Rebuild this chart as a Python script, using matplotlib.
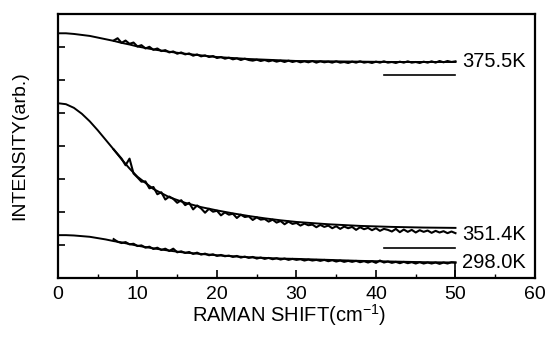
import numpy as np
import matplotlib
matplotlib.use("Agg")
import matplotlib.pyplot as plt
from matplotlib.ticker import MultipleLocator

plt.rcParams['font.family'] = ['Liberation Sans', 'DejaVu Sans']
plt.rcParams['mathtext.fontset'] = 'custom'
plt.rcParams['mathtext.rm'] = 'Liberation Sans'
plt.rcParams['mathtext.it'] = 'Liberation Sans'
plt.rcParams['mathtext.default'] = 'regular'

# smooth fitted curves
fit_x = [0, 1, 2, 3, 4, 5, 6, 7, 8, 9, 10, 12, 14, 16, 18, 20, 22, 24, 26, 28, 30, 34, 38, 42, 46, 50]
fit_375 = [7.42, 7.42, 7.40, 7.37, 7.34, 7.29, 7.24, 7.19, 7.13, 7.08, 7.02, 6.93, 6.86, 6.80, 6.75, 6.70,
           6.67, 6.64, 6.62, 6.60, 6.58, 6.57, 6.56, 6.55, 6.55, 6.55]
fit_351 = [5.30, 5.27, 5.16, 4.98, 4.75, 4.48, 4.19, 3.90, 3.60, 3.32, 3.07, 2.70, 2.45, 2.28, 2.15, 2.05,
           1.96, 1.88, 1.81, 1.75, 1.70, 1.63, 1.58, 1.55, 1.53, 1.52]
fit_298 = [1.30, 1.30, 1.29, 1.27, 1.25, 1.21, 1.17, 1.12, 1.08, 1.03, 0.98, 0.90, 0.83, 0.77, 0.73, 0.69,
           0.66, 0.63, 0.61, 0.59, 0.58, 0.55, 0.52, 0.50, 0.48, 0.47]

# measured spectra, 7 .. 50 cm-1 every 0.5
data_x = np.arange(7, 50.25, 0.5)
data_375 = [7.20, 7.27, 7.13, 7.20, 7.10, 7.14, 7.02, 7.06, 6.96, 7.01, 6.92, 6.96, 6.88, 6.91, 6.84, 6.87,
            6.80, 6.84, 6.78, 6.81, 6.74, 6.78, 6.72, 6.75, 6.70, 6.73, 6.67, 6.70, 6.65, 6.68, 6.63, 6.66,
            6.61, 6.65, 6.61, 6.59, 6.62, 6.58, 6.61, 6.57, 6.60, 6.56, 6.59, 6.55, 6.59, 6.55, 6.58, 6.54,
            6.57, 6.54, 6.58, 6.53, 6.57, 6.54, 6.56, 6.53, 6.57, 6.53, 6.55, 6.52, 6.56, 6.53, 6.57, 6.53,
            6.55, 6.52, 6.56, 6.53, 6.57, 6.53, 6.55, 6.52, 6.56, 6.53, 6.57, 6.53, 6.55, 6.52, 6.56, 6.53,
            6.57, 6.53, 6.58, 6.54, 6.58, 6.55, 6.57]
data_351 = [3.90, 3.76, 3.62, 3.42, 3.62, 3.17, 3.05, 2.92, 2.93, 2.72, 2.76, 2.54, 2.60, 2.38, 2.47, 2.40,
            2.28, 2.36, 2.21, 2.28, 2.08, 2.20, 2.11, 1.98, 2.10, 2.01, 2.04, 1.90, 1.99, 1.92, 1.95, 1.82,
            1.92, 1.85, 1.87, 1.76, 1.84, 1.77, 1.79, 1.71, 1.77, 1.68, 1.73, 1.63, 1.71, 1.64, 1.67, 1.59,
            1.65, 1.60, 1.62, 1.54, 1.61, 1.55, 1.59, 1.51, 1.57, 1.49, 1.56, 1.51, 1.55, 1.46, 1.54, 1.48,
            1.52, 1.45, 1.51, 1.43, 1.49, 1.46, 1.41, 1.49, 1.39, 1.47, 1.40, 1.46, 1.38, 1.45, 1.40, 1.44,
            1.37, 1.43, 1.38, 1.42, 1.36, 1.41, 1.36]
data_298 = [1.18, 1.10, 1.06, 1.09, 1.02, 1.04, 0.97, 0.99, 0.92, 0.95, 0.88, 0.92, 0.85, 0.89, 0.82, 0.89,
            0.78, 0.81, 0.76, 0.79, 0.73, 0.77, 0.71, 0.74, 0.69, 0.72, 0.67, 0.70, 0.66, 0.68, 0.64, 0.67,
            0.62, 0.65, 0.61, 0.64, 0.59, 0.62, 0.58, 0.61, 0.57, 0.60, 0.56, 0.59, 0.55, 0.58, 0.55, 0.57,
            0.53, 0.56, 0.53, 0.55, 0.52, 0.55, 0.51, 0.54, 0.50, 0.53, 0.49, 0.52, 0.49, 0.52, 0.48, 0.51,
            0.47, 0.51, 0.46, 0.53, 0.47, 0.50, 0.46, 0.49, 0.45, 0.49, 0.45, 0.48, 0.44, 0.48, 0.44, 0.47,
            0.44, 0.47, 0.43, 0.47, 0.44, 0.48, 0.47]

# zero levels drawn at right of each spectrum
base_x = [41, 50]
base_375 = 6.15
base_351 = 0.91
labels = ['375.5K', '351.4K', '298.0K']
label_y = [6.55, 1.33, 0.48]

fig = plt.figure(figsize=(5.47, 3.37), dpi=100)
ax = fig.add_axes([0.106, 0.175, 0.872, 0.783])

for fy in [fit_375, fit_351, fit_298]:
    ax.plot(fit_x, fy, color='black', lw=1.4)
for dy in [data_375, data_351, data_298]:
    ax.plot(data_x, dy, color='black', lw=1.5)
ax.plot([50, 50], [data_298[-1], 0], color='black', lw=1.2)
ax.plot(base_x, [base_375, base_375], color='black', lw=1.2)
ax.plot(base_x, [base_351, base_351], color='black', lw=1.2)

for lab, ly in zip(labels, label_y):
    ax.text(50.8, ly, lab, fontsize=14.5, va='center', ha='left')

ax.set_xlim(0, 60)
ax.set_ylim(0, 8)
ax.xaxis.set_major_locator(MultipleLocator(10))
ax.xaxis.set_minor_locator(MultipleLocator(5))
ax.set_yticks(range(1, 8))
ax.set_yticklabels([])
ax.tick_params(axis='x', which='major', direction='in', length=6, width=1.2, labelsize=14, pad=6)
ax.tick_params(axis='x', which='minor', direction='in', length=3, width=1.0)
ax.tick_params(axis='y', direction='in', length=5, width=1.2)
for s in ax.spines.values():
    s.set_linewidth(1.6)

ax.set_xlabel('RAMAN SHIFT(cm$^{-1}$)', fontsize=14.5)
ax.xaxis.set_label_coords(0.484, -0.14)
ax.xaxis.label.set_va('center')
ax.set_ylabel('INTENSITY(arb.)', fontsize=14)
ax.yaxis.set_label_coords(-0.08, 0.5)
ax.yaxis.label.set_va('center')

fig.savefig('out.png', dpi=100)
